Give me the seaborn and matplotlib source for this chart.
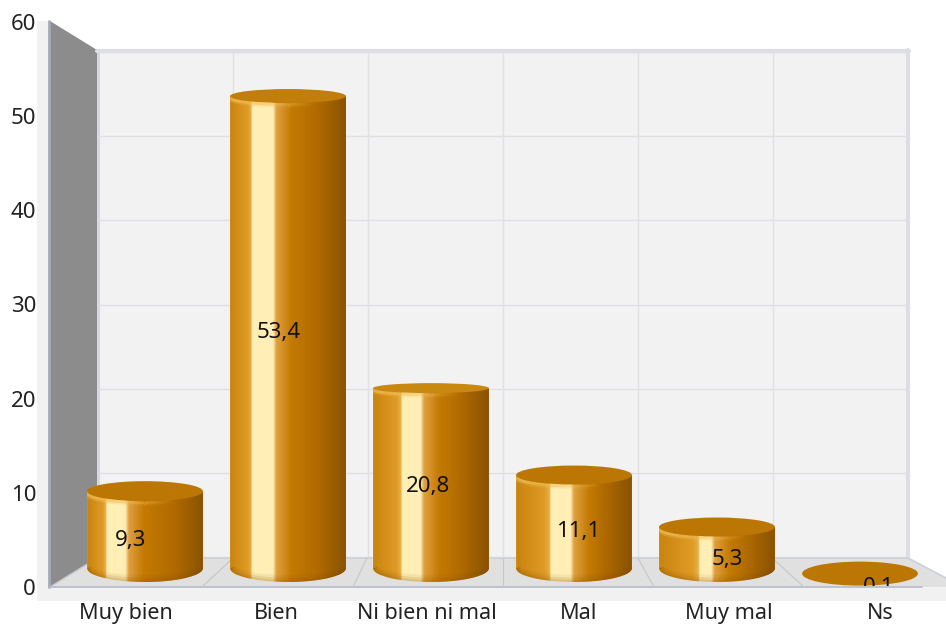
import numpy as np
import matplotlib
matplotlib.use("Agg")
import matplotlib.pyplot as plt
import seaborn as sns
from matplotlib.collections import LineCollection
from matplotlib.colors import LinearSegmentedColormap, to_rgba
from matplotlib.patches import Ellipse, PathPatch, Polygon, Rectangle
from matplotlib.path import Path
from matplotlib.transforms import Bbox, TransformedBbox

categories = ["Muy bien", "Bien", "Ni bien ni mal", "Mal", "Muy mal", "Ns"]
values = [9.3, 53.4, 20.8, 11.1, 5.3, 0.1]
value_labels = ["9,3", "53,4", "20,8", "11,1", "5,3", "0,1"]
y_ticks = [0, 10, 20, 30, 40, 50, 60]

# look of each cylinder, in pixels / fractions of the bar width
cap_px = [10, 7, 5, 9.5, 9.5, 12]
cap_colors = ["#bc7604", "#c27e0a", "#c98810", "#bc7604", "#bc7604", "#bc7604"]
highlight = [0.16, 0.18, 0.24, 0.29, 0.34, 0.34]
highlight_w = [0.17, 0.19, 0.17, 0.18, 0.11, 0.11]
label_nudge = [5, 2, 1, 0, -2, -1]
label_drop = [2, 2, 2, 2, 2, -1]

W, H = 946, 625
PX_PER_UNIT = 8.96
ZERO_PX = 574.5
BASE_PX = 568
BASE_HH = 14

sns.set_theme(style="white")
plt.rcParams["font.family"] = ["Noto Sans", "DejaVu Sans"]


def axes_px(fig, left, top, right, bottom, **kw):
    return fig.add_axes([left / W, 1 - bottom / H, (right - left) / W, (bottom - top) / H], **kw)


fig = plt.figure(figsize=(W / 100, H / 100), dpi=100, facecolor="white")

# chart box: walls, floor, light band
bg = axes_px(fig, 0, 0, W, H, zorder=0)
bg.set_xlim(0, W)
bg.set_ylim(H, 0)
bg.axis("off")
bg.add_patch(Rectangle((37, 21), 13, 580, fc="#f1f1f2", ec="none"))
bg.add_patch(Rectangle((37, 587), W - 37, 14, fc="#f1f1f2", ec="none"))
bg.add_patch(Rectangle((98, 50), 810, 508, fc="#f2f2f3", ec="none"))
bg.add_patch(Polygon([(50, 587), (97, 558), (908, 558), (946, 578), (946, 587)], fc="#e0e0e0", ec="none"))
bg.add_patch(Polygon([(50, 21), (97, 50), (97, 558), (50, 587)], fc="#8c8c8c", ec="none"))
bg.plot([49, 49], [21, 587], color="#a3abb7", lw=2)
bg.plot([97.5, 97.5], [50, 558], color="#d3d6dd", lw=2)
bg.plot([97, 909], [50.5, 50.5], color="#dcdde6", lw=3)
bg.plot([907.5, 907.5], [50, 558], color="#dcdde6", lw=3)
bg.plot([97, 908, 946], [558, 558, 578], color="#cdd0d8", lw=1.2)
bg.plot([50, 97], [587, 558], color="#c4c8d0", lw=1)
bg.plot([50, 922], [587, 587], color="#b4bcc8", lw=1.2)
for back_x, front_x in zip([233, 367, 503, 638, 772], [202, 353, 503, 654, 804]):
    bg.plot([back_x, front_x], [558, 587], color="#c6c8cd", lw=0.9)

# gridlines on the back wall
wall = axes_px(fig, 98, 52, 908, 557, zorder=1)
wall.set_facecolor("none")
wall.set_xlim(-0.5, 5.5)
wall.set_ylim(0, 60)
wall.set_xticks(np.arange(0.5, 5.5))
wall.set_yticks(y_ticks)
wall.tick_params(length=0, labelleft=False, labelbottom=False)
wall.grid(True, color="#e0e0e4", lw=1)
sns.despine(ax=wall, left=True, bottom=True)

# cylinders
bars = axes_px(fig, 0, 0, W, H, zorder=2)
bars.set_facecolor("none")
sns.barplot(x=categories, y=values, ax=bars, width=0.81, color="#bc7604", saturation=1)
xlim = (-145 / 143, (W - 145) / 143)
ylim = ((ZERO_PX - H) / PX_PER_UNIT, ZERO_PX / PX_PER_UNIT)
bars.set_xlim(*xlim)
bars.set_ylim(*ylim)
bars.axis("off")

base = (ZERO_PX - BASE_PX) / PX_PER_UNIT
base_hh = BASE_HH / PX_PER_UNIT
flat_box = None
t = np.linspace(np.pi, 0, 90)
for i, patch in enumerate(bars.patches):
    x0, w = patch.get_x(), patch.get_width()
    c, r = x0 + w / 2, w / 2
    v = patch.get_height()
    hh = cap_px[i] / PX_PER_UNIT
    cap = Ellipse((c, v), w, 2 * hh, fc=cap_colors[i], ec="none", zorder=5)
    if v <= base:
        # too low to have a side, only the cap shows; agg clips text to boxes only
        patch.set_visible(False)
        bars.add_patch(cap)
        flat_box = TransformedBbox(Bbox([[x0, v - hh], [x0 + w, v + hh]]), bars.transData)
        continue
    xs = c + r * np.cos(t)
    verts = [(c - r, v)] + list(zip(xs, base - base_hh * np.sin(t))) + [(c + r, v), (c - r, v)]
    outline = PathPatch(Path(verts), fc="none", ec="none")
    bars.add_patch(outline)
    patch.set_clip_path(outline)

    h, hw = highlight[i], highlight_w[i]
    cmap = LinearSegmentedColormap.from_list("cyl", [
        (0, "#c8840f"), (h * 0.85, "#df9b25"), (h, "#e9b04c"), (h + 0.01, "#ffefb4"),
        (h + hw, "#fff0b8"), (h + hw + 0.03, "#e0a040"), (h + hw + 0.16, "#c47a02"),
        (0.76, "#b06a00"), (1, "#8a5200"),
    ])
    im = bars.imshow(np.linspace(0, 1, 256).reshape(1, -1), cmap=cmap, aspect="auto",
                     extent=(x0, x0 + w, base - base_hh, v + hh), zorder=3)
    im.set_clip_path(outline)

    # dark rounding at the foot, soft strokes
    for lw, alpha, inset in [(6, 0.08, 3), (3.5, 0.12, 2), (1.5, 0.14, 1)]:
        foot = np.column_stack([xs, base - (base_hh - inset / PX_PER_UNIT) * np.sin(t)])
        lc = LineCollection(np.stack([foot[:-1], foot[1:]], axis=1), colors="#8a5200", alpha=alpha,
                            linewidths=lw, zorder=4)
        bars.add_collection(lc)
        lc.set_clip_path(outline)

    # light rim under the cap, fading to the right
    for lw, strength in [(4.5, 0.35), (2, 0.8)]:
        rim = np.column_stack([xs, v - hh * np.sin(t) - 1.5 / PX_PER_UNIT])
        fade = np.clip(1 - (rim[:-1, 0] - x0) / (0.75 * w), 0, 1)
        lc = LineCollection(np.stack([rim[:-1], rim[1:]], axis=1),
                            colors=[to_rgba("#f2bd55", a * strength) for a in fade],
                            linewidths=lw, zorder=4)
        bars.add_collection(lc)
        lc.set_clip_path(outline)

    bars.add_patch(cap)
bars.set_xlim(*xlim)
bars.set_ylim(*ylim)

# front plane: tick labels and value labels
front = axes_px(fig, 50, 22, W, 587, zorder=3)
front.set_facecolor("none")
front.set_xlim(-0.5, (W - 125) / 151)
front.set_ylim(0, 60)
front.set_yticks(y_ticks)
front.set_xticks(range(len(categories)))
front.set_xticklabels(categories)
front.tick_params(axis="y", length=0, pad=10, labelsize=16, labelcolor="#222222")
front.tick_params(axis="x", length=0, pad=11.5, labelsize=15.5, labelcolor="#222222")
sns.despine(ax=front, left=True, bottom=True)
for i, (v, lab) in enumerate(zip(values, value_labels)):
    txt = front.annotate(lab, (i, v / 2), xytext=(label_nudge[i] * 0.72, label_drop[i]),
                         textcoords="offset points", ha="center", va="center",
                         fontsize=16, color="#111111", annotation_clip=False)
    if v <= base:
        txt.set_clip_box(flat_box)
        txt.set_clip_on(True)

fig.savefig("out.png", dpi=100)
